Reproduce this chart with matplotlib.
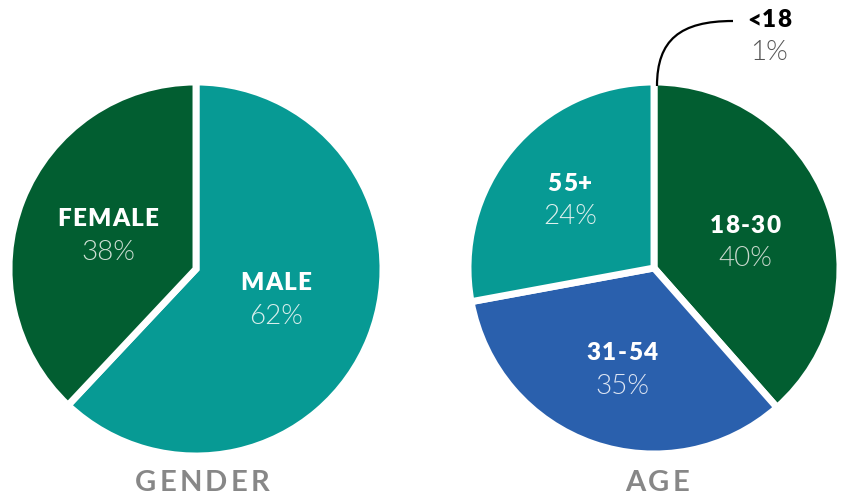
import numpy as np
import matplotlib.pyplot as plt
from matplotlib.path import Path
from matplotlib.patches import PathPatch

# Gender pie (clockwise from 12 o'clock)
gender_labels = ["MALE", "FEMALE"]
gender_pct = [62, 38]
gender_colors = ["#079A94", "#025E31"]

# Age pie: printed percentages and wedge shares as drawn in the picture
age_labels = ["18-30", "31-54", "55+"]
age_pct_text = ["40%", "35%", "24%"]
age_share = [38.5, 33.6, 27.9]
age_colors = ["#025E31", "#2A60AD", "#079A94"]
minor_label, minor_pct = "<18", "1%"

W, H = 846, 497
plt.rcParams['font.family'] = ['Lato', 'DejaVu Sans']

fig = plt.figure(figsize=(W / 100, H / 100), dpi=100)
ax = fig.add_axes([0, 0, 1, 1])
renderer = fig.canvas.get_renderer()

def y(px):  # image pixel row -> data y
    return H - px

wp = dict(edgecolor='white', linewidth=5)
ax.pie(gender_pct, colors=gender_colors, startangle=90, counterclock=False,
       center=(196, y(269)), radius=187, wedgeprops=wp, frame=True)
ax.pie(age_share, colors=age_colors, startangle=90, counterclock=False,
       center=(654, y(268)), radius=186, wedgeprops=wp, frame=True)
ax.set_xlim(0, W)
ax.set_ylim(0, H)
ax.set_aspect('auto')
ax.axis('off')

def tracked(x, yy, s, spacing, **kw):
    """centered text with extra letter spacing (pixels)"""
    parts = [ax.text(0, yy, ch, ha='left', va='center', **kw) for ch in s]
    widths = [t.get_window_extent(renderer).width for t in parts]
    total = sum(widths) + spacing * (len(s) - 1)
    cx = x - total / 2
    for t, w in zip(parts, widths):
        t.set_x(cx)
        cx += w + spacing

def label(x, yy, name, pct, pct_color='white'):
    tracked(x, y(yy), name, 1.2, color='white', fontsize=17.5, fontweight=800)
    ax.text(x, y(yy + 33), pct, ha='center', va='center', color=pct_color,
            fontsize=20, fontweight=300)

label(276, 283, gender_labels[0], f"{gender_pct[0]}%", '#d8eeec')
label(108, 219, gender_labels[1], f"{gender_pct[1]}%", '#cfe0d4')
label(745, 226, age_labels[0], age_pct_text[0], '#c9d8cd')
label(622, 353, age_labels[1], age_pct_text[1], '#dde5f3')
label(570, 184, age_labels[2], age_pct_text[2], '#dff0ee')

# callout for the tiny <18 slice
verts = [(657, y(86)), (657, y(40)), (680, y(21)), (733, y(21))]
codes = [Path.MOVETO, Path.CURVE4, Path.CURVE4, Path.CURVE4]
ax.add_patch(PathPatch(Path(verts, codes), fill=False, lw=1.6, color='black'))
tracked(769, y(20), minor_label, 0.8, color='black', fontsize=17.5, fontweight=800)
ax.text(769, y(53), minor_pct, ha='center', va='center', color='#555555',
        fontsize=20, fontweight=300)

# titles
tracked(202, y(483), "GENDER", 3.2, color='#878787', fontsize=21, fontweight=700)
tracked(657, y(483), "AGE", 3.2, color='#878787', fontsize=21, fontweight=700)

fig.savefig("out.png", dpi=100)
